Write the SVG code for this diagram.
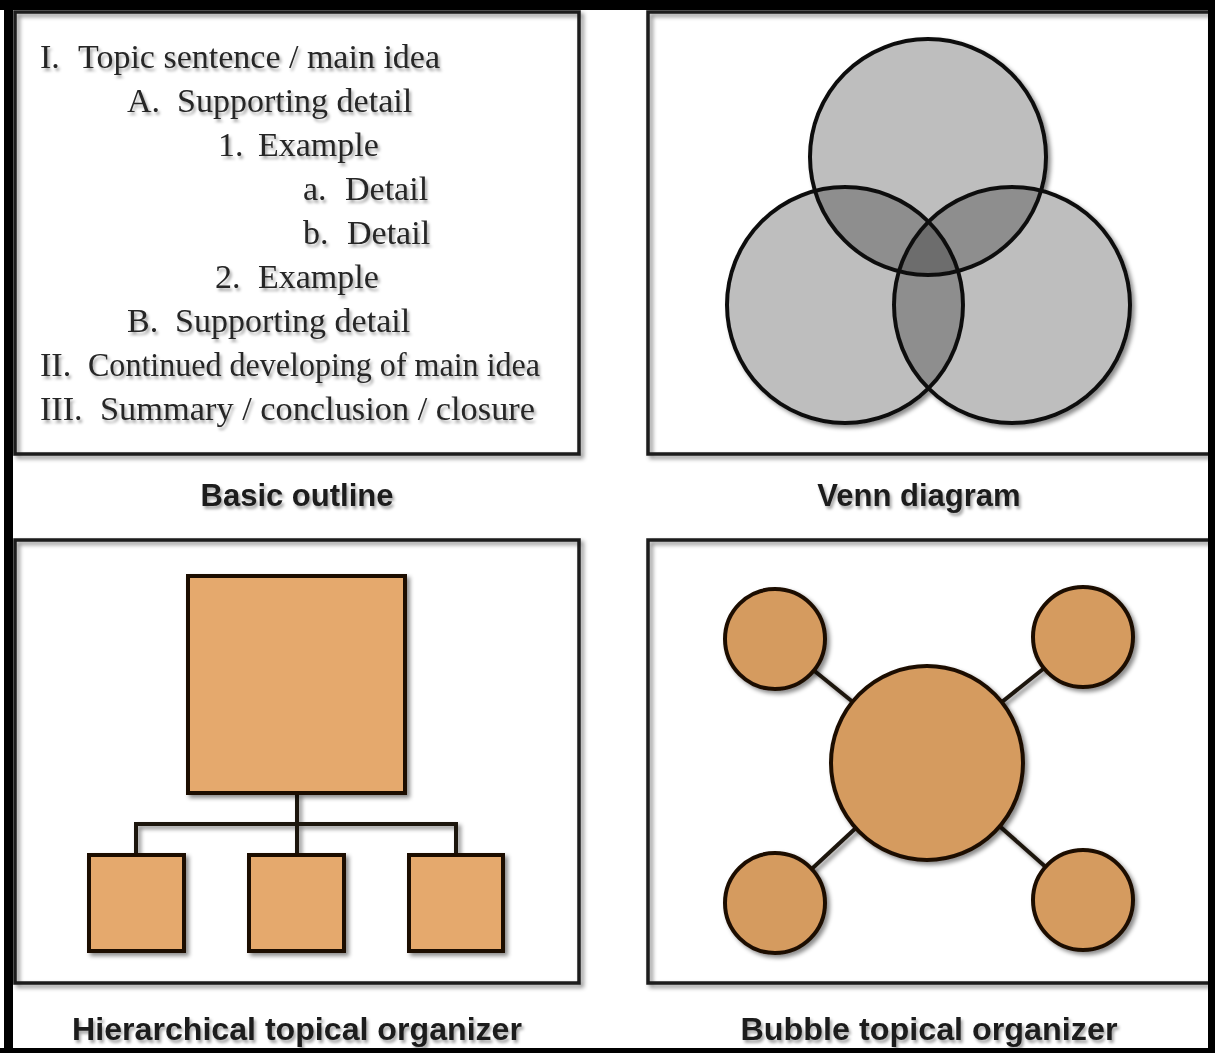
<svg xmlns="http://www.w3.org/2000/svg" width="1215" height="1053" viewBox="0 0 1215 1053">
<defs>
<filter id="sh" x="-10%" y="-10%" width="130%" height="130%">
<feDropShadow dx="3" dy="3" stdDeviation="2" flood-color="#000" flood-opacity="0.45"/>
</filter>
<filter id="tsh" x="-10%" y="-30%" width="130%" height="160%">
<feDropShadow dx="2" dy="3" stdDeviation="1.8" flood-color="#000" flood-opacity="0.35"/>
</filter>
<clipPath id="cTop"><circle cx="928" cy="157" r="118"/></clipPath>
<clipPath id="cLeft"><circle cx="845" cy="305" r="118"/></clipPath>
<clipPath id="cRight"><circle cx="1012" cy="305" r="118"/></clipPath>
</defs>
<style>
.panel{fill:none;stroke:#1a1a1a;stroke-width:3.5}
.ol{font-family:"Liberation Serif","Times New Roman",serif;font-size:34px;fill:#262626}
.lbl{font-family:"Liberation Sans",Arial,sans-serif;font-size:31px;font-weight:bold;fill:#1c1c1c;text-anchor:middle}
.v1{fill:#bebebe;stroke:none}
.v2{fill:#8e8e8e;stroke:none}
.v3{fill:#6d6d6d;stroke:none}
.vline{fill:none;stroke:#111;stroke-width:4}
.box{fill:#e5a96d;stroke:#1e0f06;stroke-width:4}
.bub{fill:#d59b5f;stroke:#1e0f06;stroke-width:4}
.con{stroke:#1e140c;stroke-width:4;fill:none}
</style>
<rect x="0" y="0" width="1215" height="1053" fill="#fff"/>

<g id="panels" filter="url(#sh)">
<rect class="panel" x="15" y="12" width="564" height="442"/>
<rect class="panel" x="648" y="12" width="562" height="442"/>
<rect class="panel" x="15" y="540" width="564" height="443"/>
<rect class="panel" x="648" y="540" width="562" height="443"/>
</g>

<g id="outline" filter="url(#tsh)">
<text class="ol" x="40" y="68">I.</text><text class="ol" x="78" y="68">Topic sentence / main idea</text>
<text class="ol" x="127" y="112">A.</text><text class="ol" x="177" y="112">Supporting detail</text>
<text class="ol" x="218" y="156">1.</text><text class="ol" x="258" y="156">Example</text>
<text class="ol" x="303" y="200">a.</text><text class="ol" x="345" y="200">Detail</text>
<text class="ol" x="303" y="244">b.</text><text class="ol" x="347" y="244">Detail</text>
<text class="ol" x="215" y="288">2.</text><text class="ol" x="258" y="288">Example</text>
<text class="ol" x="127" y="332">B.</text><text class="ol" x="175" y="332">Supporting detail</text>
<text class="ol" x="40" y="376">II.</text><text class="ol" x="88" y="376" textLength="452" lengthAdjust="spacingAndGlyphs">Continued developing of main idea</text>
<text class="ol" x="40" y="420">III.</text><text class="ol" x="100" y="420" textLength="435" lengthAdjust="spacingAndGlyphs">Summary / conclusion / closure</text>
</g>

<g id="venn" filter="url(#sh)">
<circle class="v1" cx="928" cy="157" r="118"/>
<circle class="v1" cx="845" cy="305" r="118"/>
<circle class="v1" cx="1012" cy="305" r="118"/>
<g clip-path="url(#cTop)"><circle class="v2" cx="845" cy="305" r="118"/><circle class="v2" cx="1012" cy="305" r="118"/></g>
<g clip-path="url(#cLeft)"><circle class="v2" cx="1012" cy="305" r="118"/></g>
<g clip-path="url(#cTop)"><g clip-path="url(#cLeft)"><circle class="v3" cx="1012" cy="305" r="118"/></g></g>
<circle class="vline" cx="928" cy="157" r="118"/>
<circle class="vline" cx="845" cy="305" r="118"/>
<circle class="vline" cx="1012" cy="305" r="118"/>
</g>

<g id="connectors" filter="url(#sh)">
<polyline class="con" points="297,793 297,855"/>
<polyline class="con" points="136,855 136,824 456,824 456,855"/>
<line class="con" x1="775" y1="639" x2="927" y2="762"/>
<line class="con" x1="1083" y1="637" x2="927" y2="762"/>
<line class="con" x1="775" y1="903" x2="927" y2="762"/>
<line class="con" x1="1083" y1="900" x2="927" y2="762"/>
</g>

<g id="hier-root" filter="url(#sh)"><rect class="box" x="188" y="576" width="217" height="217"/></g>
<g id="hier-child-1" filter="url(#sh)"><rect class="box" x="89" y="855" width="95" height="96"/></g>
<g id="hier-child-2" filter="url(#sh)"><rect class="box" x="249" y="855" width="95" height="96"/></g>
<g id="hier-child-3" filter="url(#sh)"><rect class="box" x="409" y="855" width="94" height="96"/></g>

<g id="bubble-center" filter="url(#sh)"><ellipse class="bub" cx="927" cy="763" rx="96" ry="97"/></g>
<g id="bubble-tl" filter="url(#sh)"><circle class="bub" cx="775" cy="639" r="50"/></g>
<g id="bubble-tr" filter="url(#sh)"><circle class="bub" cx="1083" cy="637" r="50"/></g>
<g id="bubble-bl" filter="url(#sh)"><circle class="bub" cx="775" cy="903" r="50"/></g>
<g id="bubble-br" filter="url(#sh)"><circle class="bub" cx="1083" cy="900" r="50"/></g>

<g id="labels" filter="url(#tsh)">
<text class="lbl" x="297" y="506">Basic outline</text>
<text class="lbl" x="919" y="506">Venn diagram</text>
<text class="lbl" x="297" y="1040" textLength="450" lengthAdjust="spacingAndGlyphs">Hierarchical topical organizer</text>
<text class="lbl" x="929" y="1040" textLength="377" lengthAdjust="spacingAndGlyphs">Bubble topical organizer</text>
</g>

<g id="frame" fill="#000">
<rect x="0" y="0" width="1215" height="10"/>
<rect x="4" y="0" width="9" height="1053"/>
<rect x="1208" y="0" width="7" height="1053"/>
<rect x="0" y="1048" width="1215" height="5"/>
</g>
</svg>
